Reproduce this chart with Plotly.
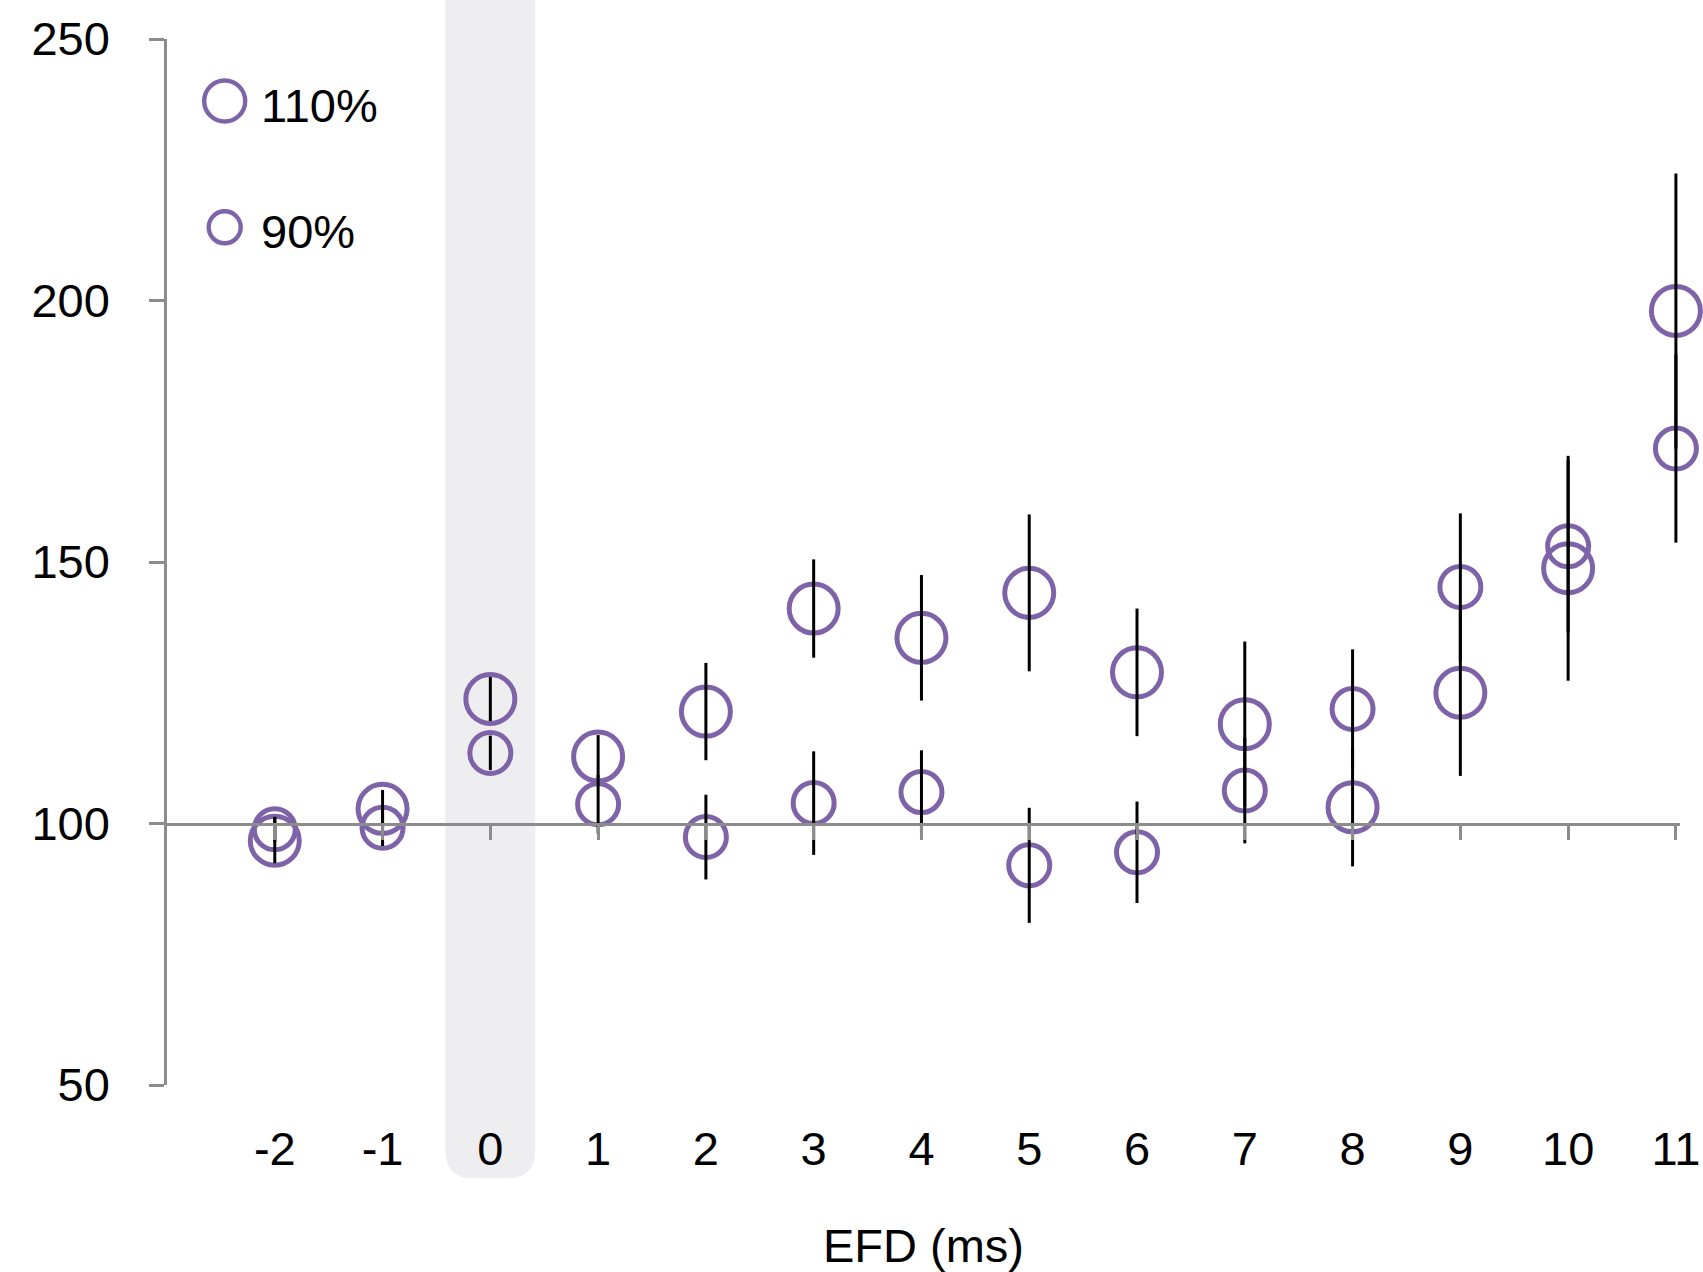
import plotly.graph_objects as go

# EFD offsets (ms) and normalised responses for the two stimulus intensities
efd = [-2, -1, 0, 1, 2, 3, 4, 5, 6, 7, 8, 9, 10, 11]
tick_labels = [str(v) for v in efd]

resp_110 = [96.7, 102.8, 123.8, 112.8, 121.4, 141.1, 135.5, 144.1, 128.9, 119.0, 103.1, 125.0, 148.8, 198.0]
err_110 = [4.3, 3.6, 4.2, 4.1, 9.3, 9.4, 12.0, 15.0, 12.2, 15.8, 11.3, 15.9, 21.5, 26.3]

resp_90 = [98.9, 99.2, 113.5, 103.7, 97.4, 103.9, 106.0, 92.0, 94.5, 106.3, 121.9, 145.2, 153.0, 171.7]
err_90 = [2.4, 3.5, 3.3, 5.6, 8.1, 9.9, 8.0, 11.0, 9.7, 10.1, 11.4, 14.1, 16.5, 18.0]

series_names = ["110%", "90%"]

PURPLE = "#7f63a8"
AXIS_GREY = "#8c8c8c"
BAND_GREY = "#eeeef1"
FONT = "Liberation Sans, Arial, Helvetica, sans-serif"
FS = 47

W, H = 1703, 1272
ML, MR, MT, MB = 167, 23, 39, 187
X_RANGE = [-3, 11.038]
Y_RANGE = [50, 250]
plot_w = W - ML - MR
plot_h = H - MT - MB

fig = go.Figure()

# open circles (drawn first so the error bars sit on top of them)
for name, vals, size in [("110%", resp_110, 49), ("90%", resp_90, 41)]:
    fig.add_trace(go.Scatter(
        x=efd, y=vals, name=name, mode="markers",
        marker=dict(symbol="circle", size=size, color="rgba(0,0,0,0)",
                    line=dict(color=PURPLE, width=5)),
        cliponaxis=False, showlegend=False,
    ))

# error bars, on an overlaid axis so they are painted above the circles
for vals, errs in [(resp_110, err_110), (resp_90, err_90)]:
    fig.add_trace(go.Scatter(
        x=efd, y=vals, mode="markers", xaxis="x2", yaxis="y",
        marker=dict(size=1, color="rgba(0,0,0,0)"),
        error_y=dict(type="data", array=errs, visible=True,
                     color="black", thickness=3, width=0),
        showlegend=False, hoverinfo="skip",
    ))

# shaded column behind EFD = 0, with rounded lower corners
hw = 0.4175
top = 1.06
bot = (MT + plot_h - 1178.3) / plot_h  # paper units, below the plot area
rx = 28 / (plot_w / (X_RANGE[1] - X_RANGE[0]))
ry = 28 / plot_h
band_path = (
    f"M {-hw},{top} L {-hw},{bot + ry} Q {-hw},{bot} {-hw + rx},{bot} "
    f"L {hw - rx},{bot} Q {hw},{bot} {hw},{bot + ry} L {hw},{top} Z"
)
fig.add_shape(type="path", path=band_path, xref="x", yref="paper",
              fillcolor=BAND_GREY, line=dict(width=0), layer="below")

# hand-built legend: circles plus labels in the upper-left corner
legend_rows = [
    (series_names[0], 0.9407, 20.5, 0.936),
    (series_names[1], 0.8200, 16.0, 0.8155),
]
cx = (224.7 - ML) / plot_w
tx = (259 - ML) / plot_w
for label, cy, r, ty in legend_rows:
    fig.add_shape(type="circle", xref="paper", yref="paper",
                  xsizemode="pixel", ysizemode="pixel",
                  xanchor=cx, yanchor=cy, x0=-r, x1=r, y0=-r, y1=r,
                  line=dict(color=PURPLE, width=4.4), fillcolor="rgba(0,0,0,0)")
    fig.add_annotation(text=label, xref="paper", yref="paper", x=tx, y=ty,
                       xanchor="left", yanchor="middle", showarrow=False,
                       font=dict(size=FS, color="black", family=FONT))

fig.update_layout(
    width=W, height=H,
    margin=dict(l=ML, r=MR, t=MT, b=MB, pad=0, autoexpand=False),
    paper_bgcolor="white", plot_bgcolor="rgba(0,0,0,0)",
    font=dict(family=FONT, size=FS, color="black"),
    showlegend=False,
    xaxis=dict(
        range=X_RANGE, tickmode="array", tickvals=efd, ticktext=tick_labels,
        showline=False, ticks="", showgrid=False, zeroline=False,
        automargin=False,
        tickfont=dict(size=FS, color="black"), ticklabelstandoff=32,
        title=dict(text="EFD (ms)", font=dict(size=FS, color="black"), standoff=56),
    ),
    # baseline at 100 with its tick marks
    xaxis2=dict(
        range=X_RANGE, matches="x", overlaying="x", anchor="free", position=0.25,
        side="bottom", showline=True, linecolor=AXIS_GREY, linewidth=2.6,
        ticks="outside", ticklen=15, tickwidth=2.6, tickcolor=AXIS_GREY,
        tickmode="array", tickvals=efd, showticklabels=False, automargin=False,
        showgrid=False, zeroline=False, layer="above traces",
    ),
    yaxis=dict(
        range=Y_RANGE, tickmode="array", tickvals=[50, 100, 150, 200, 250],
        showline=True, linecolor=AXIS_GREY, linewidth=2.6,
        ticks="outside", ticklen=15, tickwidth=2.6, tickcolor=AXIS_GREY,
        showgrid=False, zeroline=False, ticklabelstandoff=30, automargin=False,
        tickfont=dict(size=FS, color="black"),
    ),
)

fig.write_html("out.html")
